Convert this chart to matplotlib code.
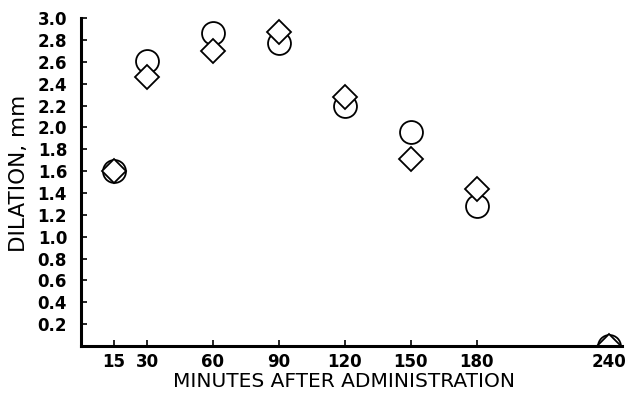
import matplotlib.pyplot as plt

# Minutes after administration and pupil dilation (mm)
minutes = [15, 30, 60, 90, 120, 150, 180, 240]
dilation_circle = [1.60, 2.61, 2.86, 2.77, 2.20, 1.96, 1.28, 0.0]
dilation_diamond = [1.60, 2.46, 2.70, 2.87, 2.28, 1.71, 1.44, 0.0]

x_ticks = [15, 30, 60, 90, 120, 150, 180, 240]
y_ticks = [0.2, 0.4, 0.6, 0.8, 1.0, 1.2, 1.4, 1.6, 1.8, 2.0, 2.2, 2.4, 2.6, 2.8, 3.0]

plt.rcParams['font.family'] = ['DejaVu Sans']

fig = plt.figure(figsize=(6.28, 3.95), dpi=100)
ax = fig.add_axes([0.129, 0.124, 0.861, 0.830])

# circles first, diamonds drawn on top
ax.plot(minutes, dilation_circle, linestyle='none', marker='o', markersize=16.5,
        markerfacecolor='white', markeredgecolor='black', markeredgewidth=1.3)
ax.plot(minutes, dilation_diamond, linestyle='none', marker='D', markersize=12,
        markerfacecolor='white', markeredgecolor='black', markeredgewidth=1.3)

ax.set_xlim(0, 246)
ax.set_ylim(0, 3.0)
ax.set_xticks(x_ticks)
ax.set_xticklabels([str(t) for t in x_ticks])
ax.set_yticks(y_ticks)
ax.set_yticklabels([f'{t:.1f}' for t in y_ticks])

for side in ['top', 'right']:
    ax.spines[side].set_visible(False)
for side in ['left', 'bottom']:
    ax.spines[side].set_linewidth(2.2)
    ax.spines[side].set_zorder(5)

ax.tick_params(axis='both', direction='in', length=4, width=1.2, labelsize=12)
ax.tick_params(axis='y', pad=10)
ax.tick_params(axis='x', pad=5)
for lbl in ax.get_xticklabels() + ax.get_yticklabels():
    lbl.set_fontweight('bold')

ax.set_xlabel('MINUTES AFTER ADMINISTRATION', fontsize=14.5)
ax.set_ylabel('DILATION, mm', fontsize=15.5)
ax.xaxis.set_label_coords(0.486, -0.078)
ax.yaxis.set_label_coords(-0.096, 0.527)

fig.savefig('out.png', dpi=100)
